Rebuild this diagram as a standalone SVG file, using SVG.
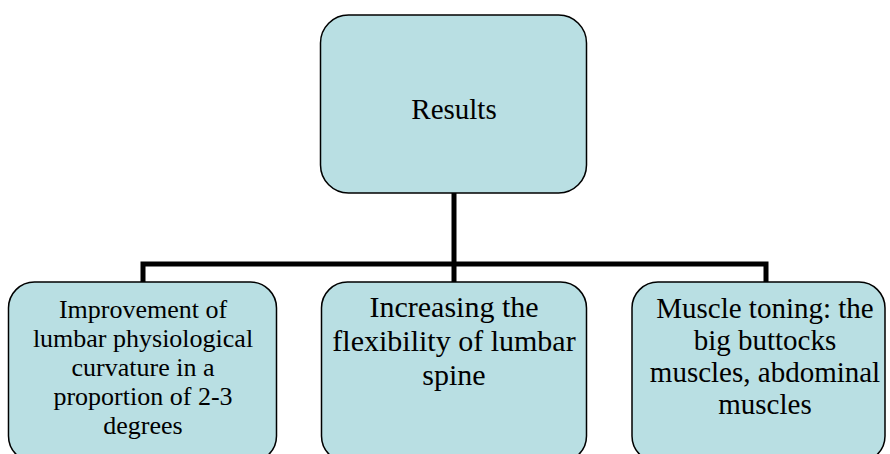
<svg xmlns="http://www.w3.org/2000/svg" width="890" height="454" viewBox="0 0 890 454">
<style>
.box{fill:#B9DFE3;stroke:#000;stroke-width:1.5}
.t{font-family:"Liberation Serif","Times New Roman",serif;fill:#000;text-anchor:middle}
.c{fill:none;stroke:#000;stroke-width:5;stroke-linecap:butt}
</style>
<rect width="890" height="454" fill="#fff"/>
<g id="connectors">
<path class="c" d="M454 193 V264 M143 264 H766 M143 261.5 V282 M454 264 V282 M766 261.5 V282"/>
</g>
<g id="results">
<rect class="box" x="320.5" y="15" width="266" height="178" rx="28"/>
<text class="t" x="454" y="119" font-size="29">Results</text>
</g>
<g id="improvement">
<rect class="box" x="8.5" y="282" width="268" height="180" rx="26"/>
<text class="t" font-size="26"><tspan x="143" y="318">Improvement of</tspan><tspan x="143" y="347">lumbar physiological</tspan><tspan x="143" y="376">curvature in a</tspan><tspan x="143" y="405">proportion of 2-3</tspan><tspan x="143" y="434">degrees</tspan></text>
</g>
<g id="flexibility">
<rect class="box" x="321.5" y="282" width="265" height="180" rx="26"/>
<text class="t" font-size="30"><tspan x="454" y="317">Increasing the</tspan><tspan x="454" y="351">flexibility of lumbar</tspan><tspan x="454" y="385">spine</tspan></text>
</g>
<g id="muscle">
<rect class="box" x="632" y="282" width="253" height="180" rx="26"/>
<text class="t" font-size="29"><tspan x="765" y="318">Muscle toning: the</tspan><tspan x="765" y="350">big buttocks</tspan><tspan x="765" y="382">muscles, abdominal</tspan><tspan x="765" y="414">muscles</tspan></text>
</g>
</svg>
